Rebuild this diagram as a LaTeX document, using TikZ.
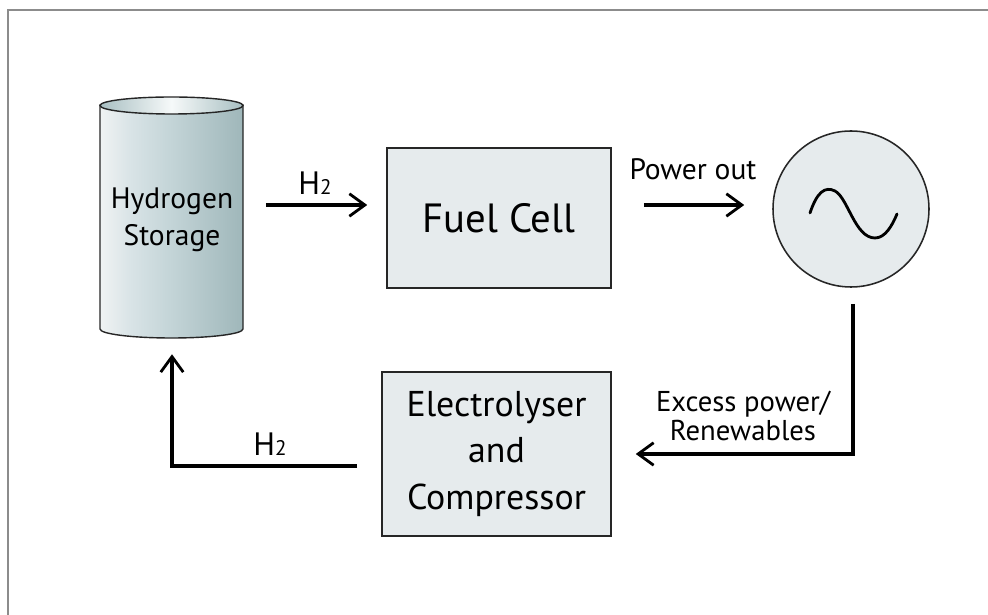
\documentclass[tikz,border=0pt]{standalone}
\usepackage{fontspec}
\setmainfont{PT Sans}
\usetikzlibrary{arrows.meta,positioning}
\definecolor{boxgray}{HTML}{E6EBED}
\definecolor{framegray}{HTML}{8C8C8C}
\definecolor{tankrim}{HTML}{A8BFC2}
\definecolor{tanktop}{HTML}{F6F9F9}
\definecolor{sideA}{HTML}{F0F3F3}
\definecolor{sideB}{HTML}{D8E3E6}
\definecolor{sideC}{HTML}{C3D4D7}
\definecolor{sideD}{HTML}{9FB7BA}
\pgfdeclarehorizontalshading{tankside}{100bp}{color(0bp)=(sideA); color(25bp)=(sideA); color(36bp)=(sideB); color(50bp)=(sideC); color(75bp)=(sideD); color(100bp)=(sideD)}
\tikzset{
    block/.style={draw=black!85,line width=1.1pt,fill=boxgray,align=center,inner sep=0pt},
    barb/.style={-{Straight Barb[length=11pt,width=16pt,line width=2pt]}},
    flow/.style={line width=2.15pt,barb},
    tag/.style={inner sep=0pt,align=center}
}
\begin{document}
\begin{tikzpicture}[x=0.025cm,y=-0.025cm]
    \useasboundingbox (0,0) rectangle (988,615);
    \draw[framegray,line width=1.7pt] (8,615) -- (8,10) -- (988,10);
    % tank
    \path[shading=tankside,draw=black!85,line width=1pt]
        (100,105) -- (100,329) arc[start angle=180,end angle=0,x radius=71.5,y radius=9] -- (243,105) -- cycle;
    \path[left color=tankrim,right color=tankrim,middle color=tanktop,draw=black!85,line width=1pt]
        (171.5,105.5) ellipse[x radius=71.5,y radius=8.5];
    \node[tag,font=\fontsize{21}{26.5}\selectfont,minimum width=143*0.025cm,minimum height=233*0.025cm] (storage) at (172,220) {Hydrogen\\Storage};
    % boxes
    \node[block,minimum width=224*0.025cm,minimum height=140*0.025cm,font=\fontsize{29}{32}\selectfont] (fuelcell) at (499,218) {\raisebox{-2pt}{Fuel Cell}};
    \node[block,minimum width=229*0.025cm,minimum height=164*0.025cm,font=\fontsize{25.5}{33}\selectfont] (electrolyser) at (496.5,454) {Electrolyser\\and\\Compressor};
    \node[circle,draw=black!85,line width=1.1pt,fill=boxgray,minimum size=156*0.025cm,inner sep=0pt] (generator) at (851,209) {};
    \draw[line width=2pt,line cap=round] (810,213) .. controls (817,192) and (825,186) .. (835,191)
        .. controls (848,198) and (855,238) .. (875,238) .. controls (885,238) and (892,226) .. (897,214);
    % arrows
    \draw[flow,shorten <=22*0.025cm,shorten >=19*0.025cm] ([yshift=15*0.025cm]storage.east) -- ([yshift=13*0.025cm]fuelcell.west);
    \node[tag,font=\fontsize{23}{26}\selectfont] (hup) at (315,183) {H{\fontsize{15}{16}\selectfont 2}};
    \draw[flow,shorten <=32*0.025cm,shorten >=28*0.025cm] ([yshift=13*0.025cm]fuelcell.east) -- ([yshift=4*0.025cm]generator.west);
    \node[tag,font=\fontsize{21}{24}\selectfont] (powerout) at (693,169) {Power out};
    \coordinate (bend) at (853,454);
    \draw[flow,shorten >=24*0.025cm,shorten <=16*0.025cm] ([xshift=2*0.025cm]generator.south) -- (bend) -- (electrolyser.east);
    \node[tag,font=\fontsize{20.4}{20}\selectfont] (excess) at (743,416) {Excess power/\\Renewables};
    \coordinate (corner) at (172,466);
    \draw[flow,shorten <=24*0.025cm,shorten >=17.5*0.025cm] ([yshift=-12*0.025cm]electrolyser.west) -- (corner) -- (storage.south -| corner);
    \node[tag,font=\fontsize{23}{26}\selectfont] (hdown) at (270,444) {H{\fontsize{15}{16}\selectfont 2}};
\end{tikzpicture}
\end{document}
